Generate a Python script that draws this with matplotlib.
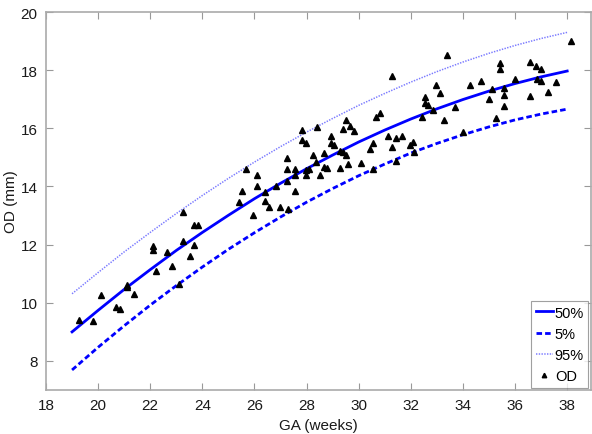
import matplotlib
matplotlib.use("Agg")
import matplotlib.pyplot as plt

plt.rcParams['font.family'] = ['Liberation Sans', 'DejaVu Sans']

# Percentile curves at each week
curve_ga = [19, 20, 21, 22, 23, 24, 25, 26, 27, 28, 29, 30, 31, 32, 33, 34, 35, 36, 37, 38]
p50 = [9.00, 9.74, 10.46, 11.14, 11.80, 12.42, 13.01, 13.58, 14.11, 14.61,
       15.08, 15.53, 15.94, 16.32, 16.67, 16.99, 17.28, 17.54, 17.77, 17.97]
p5 = [7.69, 8.47, 9.21, 9.92, 10.59, 11.23, 11.84, 12.41, 12.95, 13.46,
      13.93, 14.37, 14.77, 15.15, 15.48, 15.78, 16.05, 16.29, 16.49, 16.66]
p95 = [10.31, 11.04, 11.75, 12.42, 13.07, 13.69, 14.28, 14.84, 15.37, 15.87,
       16.34, 16.79, 17.20, 17.59, 17.95, 18.28, 18.58, 18.85, 19.09, 19.30]

# Observed OD measurements
od_ga = [19.27, 19.80, 20.11, 20.68, 20.84, 21.09, 21.09, 21.37, 22.09, 22.09,
         22.24, 22.65, 22.82, 23.10, 23.26, 23.25, 23.52, 23.67, 23.69, 23.84,
         25.41, 25.53, 25.67, 25.95, 26.10, 26.10, 26.40, 26.40, 26.55, 26.82,
         26.97, 27.25, 27.25, 27.25, 27.28, 27.55, 27.55, 27.55, 27.83, 27.83,
         27.97, 27.97, 27.97, 28.08, 28.25, 28.38, 28.40, 28.51, 28.67, 28.67,
         28.80, 28.95, 28.95, 29.04, 29.27, 29.40, 29.53, 29.27, 29.40, 29.53,
         29.68, 29.82, 29.58, 30.10, 30.42, 30.53, 30.55, 30.68, 30.81, 31.11,
         31.26, 31.42, 31.42, 31.68, 31.96, 32.08, 32.12, 31.26, 32.41, 32.53,
         32.55, 32.67, 32.84, 32.98, 33.12, 33.27, 33.40, 33.68, 33.99, 34.28,
         34.68, 34.99, 35.13, 35.25, 35.41, 35.41, 35.56, 35.56, 35.56, 35.98,
         36.56, 36.81, 36.98, 36.85, 37.00, 36.56, 37.26, 37.57, 38.13]
od_mm = [9.41, 9.36, 10.28, 9.87, 9.77, 10.62, 10.55, 10.30, 11.94, 11.83,
         11.08, 11.75, 11.25, 10.66, 13.13, 12.11, 11.61, 12.00, 12.69, 12.69,
         13.45, 13.86, 14.59, 13.01, 14.39, 14.01, 13.82, 13.49, 13.30, 14.01,
         13.30, 14.97, 14.60, 14.18, 13.24, 14.60, 14.39, 13.86, 15.94, 15.60,
         15.48, 14.56, 14.39, 14.60, 15.08, 14.85, 16.06, 14.39, 15.14, 14.68,
         14.64, 15.75, 15.48, 15.42, 15.22, 15.20, 15.08, 14.64, 15.97, 16.29,
         16.08, 15.92, 14.79, 14.82, 15.29, 15.48, 14.60, 16.40, 16.54, 15.74,
         15.37, 15.68, 14.87, 15.73, 15.42, 15.54, 15.17, 17.79, 16.40, 17.08,
         16.86, 16.80, 16.64, 17.49, 17.22, 16.29, 18.51, 16.73, 15.87, 17.49,
         17.63, 17.01, 17.36, 16.34, 18.24, 18.04, 17.40, 17.13, 16.78, 17.69,
         18.27, 18.16, 18.04, 17.68, 17.64, 17.11, 17.25, 17.60, 18.99]

xticks = [18, 20, 22, 24, 26, 28, 30, 32, 34, 36, 38]
yticks = [8, 10, 12, 14, 16, 18, 20]

fig = plt.figure(figsize=(5.92, 4.35), dpi=100)
ax = fig.add_axes([0.0777, 0.1011, 0.920, 0.869])

ax.plot(curve_ga, p50, color='#0000ff', lw=2.0, ls='-', label='50%')
ax.plot(curve_ga, p5, color='#0000ff', lw=2.0, ls=(0, (2.0, 1.1)), label='5%')
ax.plot(curve_ga, p95, color='#7a7aff', lw=1.1, ls=(0, (0.9, 0.9)), label='95%')
ax.plot(od_ga, od_mm, ls='none', marker='^', color='black', ms=4.6, label='OD')

ax.set_xlim(18, 38.9)
ax.set_ylim(7, 20)
ax.set_xticks(xticks)
ax.set_yticks(yticks)
ax.tick_params(direction='in', length=5, width=0.8, color='#999999',
               labelsize=11, labelcolor='#1a1a1a', top=True, right=True, pad=6)
for s in ax.spines.values():
    s.set_color('#aaaaaa')
    s.set_linewidth(1.2)

ax.set_xlabel('GA (weeks)', fontsize=11, color='#1a1a1a', labelpad=4)
ax.set_ylabel('OD (mm)', fontsize=11, color='#1a1a1a')
ax.yaxis.set_label_coords(-0.052, 0.5)

leg = ax.legend(loc='lower right', fontsize=10.5, frameon=True, fancybox=False,
                handlelength=1.15, handletextpad=0.15, borderpad=0.3,
                labelspacing=0.5, borderaxespad=0.15, markerscale=0.7)
leg.get_frame().set_edgecolor('#888888')
leg.get_frame().set_linewidth(0.8)

fig.savefig('out.png', dpi=100)
